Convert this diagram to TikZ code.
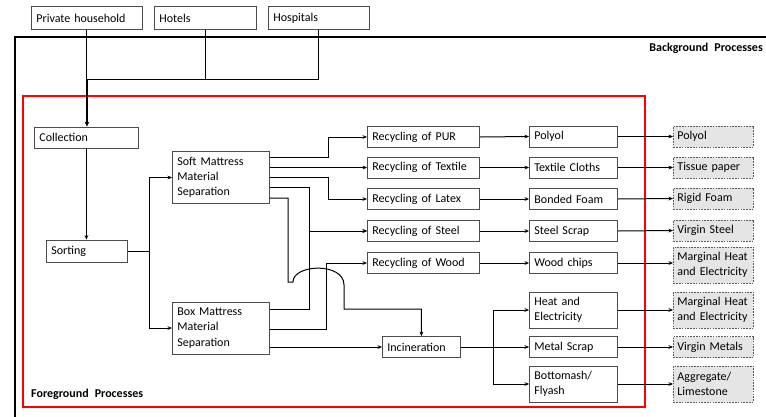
\documentclass[tikz,border=0pt]{standalone}
\usepackage{fontspec}
\setmainfont{Carlito}
\usetikzlibrary{arrows.meta}
\begin{document}
\begin{tikzpicture}[x=1pt,y=-1pt,
  bx/.style={draw=black!70, line width=0.8pt, fill=white, rectangle, anchor=west,
    inner xsep=5pt, inner ysep=0pt, align=left, minimum height=21pt,
    font=\fontsize{12}{15.2}\selectfont},
  gbx/.style={bx, draw=black!65, fill=black!10, inner xsep=4pt, dash pattern=on 1.6pt off 1.2pt},
  ln/.style={draw=black, line width=1pt},
  arr/.style={ln, -{Stealth[length=4.5pt,width=3.8pt]}},
  lbl/.style={font=\fontsize{12}{14}\selectfont\bfseries, inner sep=0pt}
]
\useasboundingbox (0,0) rectangle (766,416);

% background frame and foreground area
\draw[line width=2.6pt] (15,417) -- (15,37) -- (767,37);
\node[lbl, anchor=east] (bgl) at (763,48) {Background\enspace Processes};
\draw[red, line width=2pt] (23,96) rectangle (645,407);
\node[lbl, anchor=west] (fgl) at (31,394) {Foreground\enspace Processes};

% sources
\node[bx, text width=101pt, minimum height=23pt] (ph) at (31,18) {Private household};
\node[bx, text width=92pt, minimum height=23pt] (hot) at (154,18) {Hotels};
\node[bx, text width=91pt, minimum height=23pt] (hos) at (268,18) {Hospitals};

% foreground chain
\node[bx, text width=94pt] (coll) at (34,137.5) {Collection};
\node[bx, text width=71pt, minimum height=22pt] (sort) at (46,251) {Sorting};
\node[bx, text width=87pt, minimum height=52pt] (soft) at (172,177.5) {Soft Mattress\\Material\\Separation};
\node[bx, text width=87pt, minimum height=52pt] (box) at (172,328) {Box Mattress\\Material\\Separation};

% recycling processes
\node[bx, text width=102pt] (pur) at (367,137) {Recycling of PUR};
\node[bx, text width=102pt] (tex) at (367,167.5) {Recycling of Textile};
\node[bx, text width=102pt] (lat) at (367,199) {Recycling of Latex};
\node[bx, text width=102pt] (stl) at (367,231) {Recycling of Steel};
\node[bx, text width=102pt] (wod) at (367,263) {Recycling of Wood};
\node[bx, text width=68pt] (inc) at (382,347) {Incineration};

% products
\node[bx, text width=78pt] (pol) at (529,136.5) {Polyol};
\node[bx, text width=78pt] (tcl) at (529,167.5) {Textile Cloths};
\node[bx, text width=78pt] (bfo) at (529,199) {Bonded Foam};
\node[bx, text width=78pt] (ssc) at (529,231) {Steel Scrap};
\node[bx, text width=78pt] (wch) at (529,263) {Wood chips};
\node[bx, text width=78pt, minimum height=36pt] (hel) at (529,310) {Heat and\\Electricity};
\node[bx, text width=78pt] (msc) at (529,347) {Metal Scrap};
\node[bx, text width=78pt, minimum height=36pt] (bot) at (529,384) {Bottomash/\\Flyash};

% avoided products
\node[gbx, text width=72pt] (apol) at (673,136.5) {Polyol};
\node[gbx, text width=72pt] (atis) at (673,167.5) {Tissue paper};
\node[gbx, text width=72pt] (arig) at (673,198.5) {Rigid Foam};
\node[gbx, text width=72pt] (avst) at (673,230.5) {Virgin Steel};
\node[gbx, text width=72pt, minimum height=36pt] (amh1) at (673,265) {Marginal Heat\\and Electricity};
\node[gbx, text width=72pt, minimum height=36pt] (amh2) at (673,310) {Marginal Heat\\and Electricity};
\node[gbx, text width=72pt] (avm) at (673,347) {Virgin Metals};
\node[gbx, text width=72pt, minimum height=36pt] (aagg) at (673,384) {Aggregate/\\Limestone};

% sources to collection
\coordinate (j) at (87,79);
\draw[ln] (ph.south) -- (ph.south|-j);
\draw[ln] (hot.south) |- (j);
\draw[ln] (hos.south) |- (j);
\draw[line width=2pt, -{Stealth[length=5pt,width=4.5pt]}] (j) -- (j|-coll.north);

% collection, sorting, separation
\draw[arr] (coll.south) -- (coll.south|-sort.north);
\draw[arr] (sort.east) -- ++(22,0) |- (soft.west);
\draw[arr] (sort.east) -- ++(22,0) |- (box.west);

% soft mattress outputs
\draw[arr] (soft.east|-0,157) -- (328,157) |- (pur.west);
\draw[arr] (soft.east|-tex.west) -- (tex.west);
\draw[arr] (soft.east|-0,177) -- (328,177) |- (lat.west);
\draw[arr] (soft.east|-0,187) -- (309,187) |- (stl.west);
\draw[arr] (soft.east|-0,198) -- (288,198) -- (288,282) -- (293,282)
  .. controls (293,264) and (344,262) .. (344,285) -- (344,309) -| (inc.north);

% box mattress outputs
\draw[arr] (box.east|-0,309) -- (309,309) |- (stl.west);
\draw[arr] (box.east|-0,329) -- (326,329) |- (wod.west);
\draw[arr] (box.east|-inc.west) -- (inc.west);

% recycling to products
\draw[arr] (pur.east) -- (pol.west);
\draw[arr] (tex.east) -- (tcl.west);
\draw[arr] (lat.east) -- (bfo.west);
\draw[arr] (stl.east) -- (ssc.west);
\draw[arr] (wod.east) -- (wch.west);

% incineration outputs
\draw[arr] (inc.east) -- (493,347) |- (hel.west);
\draw[arr] (inc.east) -- (msc.west);
\draw[arr] (inc.east) -- (493,347) |- (bot.west);

% products to avoided products
\draw[arr] (pol.east) -- (apol.west);
\draw[arr] (tcl.east) -- (atis.west);
\draw[arr] (bfo.east) -- (arig.west);
\draw[arr] (ssc.east) -- (avst.west);
\draw[arr] (wch.east) -- (wch.east-|amh1.west);
\draw[arr] (hel.east) -- (amh2.west);
\draw[arr] (msc.east) -- (avm.west);
\draw[arr] (bot.east) -- (aagg.west);
\end{tikzpicture}
\end{document}
